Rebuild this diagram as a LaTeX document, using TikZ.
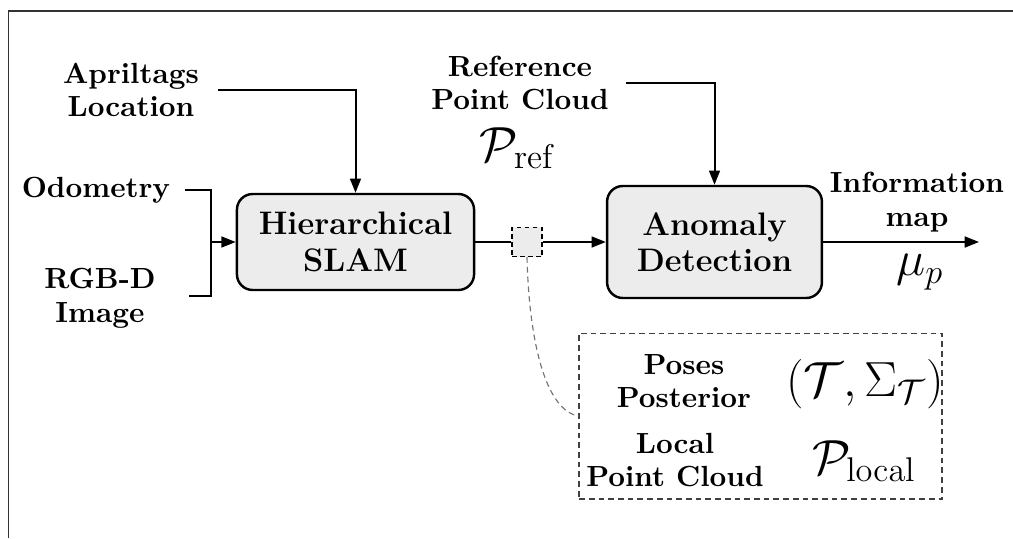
\documentclass[tikz,border=0pt]{standalone}
\usetikzlibrary{arrows.meta}
\definecolor{boxfill}{HTML}{ECECEC}
\definecolor{framegray}{HTML}{333333}
\begin{document}
\begin{tikzpicture}[x=0.35pt,y=-0.35pt,
  lbl/.style={align=center,font=\fontsize{10.2}{11.8}\selectfont\bfseries,inner sep=0pt},
  mathlbl/.style={inner sep=0pt,font=\fontsize{17}{20}\selectfont},
  block/.style={draw,line width=0.85pt,fill=boxfill,rounded corners=5.5pt,align=center,
    font=\fontsize{11.4}{12.8}\selectfont\bfseries,inner sep=0pt},
  conn/.style={line width=0.7pt},
  arr/.style={conn,-{Triangle[length=5pt,width=3.8pt]}},
  tapbox/.style={draw,dash pattern=on 1.6pt off 1.2pt,line width=0.45pt,fill=boxfill,
    minimum width=10.5pt,minimum height=10.2pt,inner sep=0pt},
  detailbox/.style={draw=black!75,dash pattern=on 2pt off 1.4pt,line width=0.45pt,
    minimum width=127pt,minimum height=58pt,inner sep=0pt},
  link/.style={draw=black!55,dash pattern=on 2pt off 1.4pt,line width=0.4pt}]

\useasboundingbox (0,0) rectangle (1013,538);

% outer frame
\draw[framegray,line width=0.5pt] (8.5,538) -- (8.5,11) -- (1013,11);

% processing blocks
\node[block,minimum width=83pt,minimum height=33.6pt] (slam) at (355.5,242) {Hierarchical\\SLAM};
\node[block,minimum width=75.2pt,minimum height=39.2pt] (anomaly) at (714.5,242) {Anomaly\\Detection};
\node[tapbox] (tap) at (527,242) {};

% inputs
\node[lbl] (april) at (131,90) {Apriltags\\Location};
\node[lbl] (odom) at (96,190) {Odometry};
\node[lbl] (rgbd) at (100,298) {RGB-D\\Image};
\node[lbl] (ref) at (520,83) {Reference\\Point Cloud};
\node[mathlbl] (pref) at (518,148) {$\mathcal{P}_{\mathrm{ref}}$};

% output
\node[lbl] (infomap) at (917,202) {Information\\map};
\node[mathlbl] (mu) at (920,272) {$\mu_p$};
\coordinate (mapend) at (979,242);

% detail of the data passed between the blocks
\node[detailbox] (info) at (760.5,416) {};
\node[lbl] (poses) at (684,381) {Poses\\Posterior};
\node[mathlbl] (tsig) at (865,384) {$(\mathcal{T},\Sigma_{\mathcal{T}})$};
\node[lbl] (local) at (675,460) {Local\\Point Cloud};
\node[mathlbl] (plocal) at (864,461) {$\mathcal{P}_{\mathrm{local}}$};

% connectors
\coordinate (merge) at (211,242);
\draw[arr] ([xshift=6.5pt]april.east) -| (slam.north);
\draw[conn] ([xshift=5pt]odom.east) -| (merge);
\draw[conn] ([xshift=11.5pt,yshift=0.7pt]rgbd.east) -| (merge);
\draw[arr] (merge) -- (slam.west);
\draw[conn] (slam.east) -- (tap.west);
\draw[arr] (tap.east) -- (anomaly.west);
\draw[arr] ([xshift=6pt]ref.east) -| (anomaly.north);
\draw[arr] (anomaly.east) -- (mapend);
\draw[link] (tap.south) .. controls (529,340) and (545,410) .. (info.west);
\end{tikzpicture}
\end{document}
